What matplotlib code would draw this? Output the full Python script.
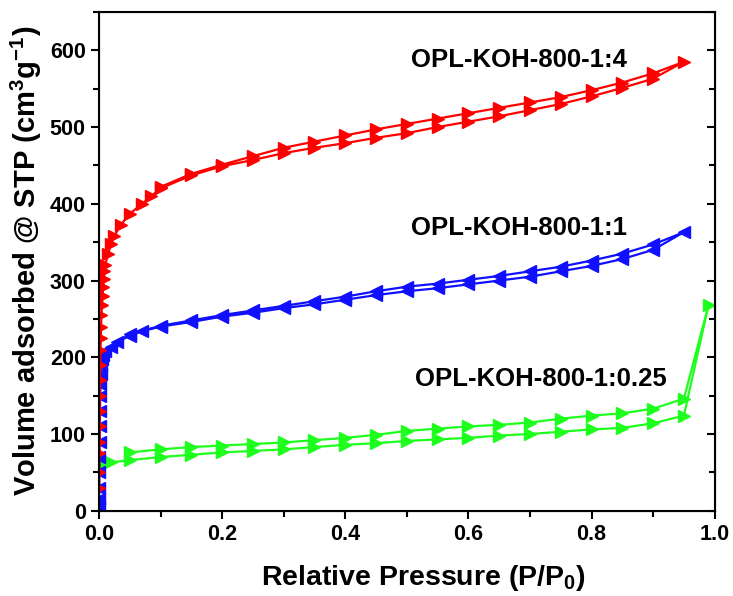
import matplotlib
matplotlib.use('Agg')
import matplotlib.pyplot as plt
import numpy as np
from matplotlib.ticker import MultipleLocator

plt.rcParams['font.family'] = ['Liberation Sans', 'DejaVu Sans']
plt.rcParams['font.weight'] = 'bold'
plt.rcParams['mathtext.fontset'] = 'custom'
plt.rcParams['mathtext.bf'] = 'Liberation Sans:bold'
plt.rcParams['mathtext.rm'] = 'Liberation Sans:bold'
plt.rcParams['mathtext.default'] = 'bf'

# OPL-KOH-800-1:4 (adsorption then desorption)
red_ads_p = [0.0002, 0.0004, 0.0006, 0.0008, 0.001, 0.0012, 0.0015, 0.0018, 0.002, 0.0025,
             0.003, 0.0035, 0.004, 0.005, 0.006, 0.007, 0.008, 0.009, 0.01, 0.015,
             0.02, 0.025, 0.035, 0.05, 0.07, 0.085, 0.1, 0.15, 0.2, 0.25,
             0.3, 0.35, 0.4, 0.45, 0.5, 0.55, 0.6, 0.65, 0.7, 0.75,
             0.8, 0.85, 0.9, 0.95]
red_ads_v = [30, 50, 75, 90, 110, 130, 150, 170, 190, 210,
             225, 240, 255, 268, 280, 292, 302, 312, 320, 335,
             348, 358, 372, 387, 400, 410, 420, 437, 449, 457,
             466, 473, 479, 486, 492, 500, 507, 514, 522, 530,
             540, 551, 563, 585]
red_des_p = [0.9, 0.85, 0.8, 0.75, 0.7, 0.65, 0.6, 0.55, 0.5, 0.45, 0.4, 0.35, 0.3, 0.25, 0.2, 0.15, 0.1]
red_des_v = [570, 558, 548, 539, 532, 525, 518, 511, 504, 497, 489, 481, 473, 462, 451, 439, 422]

# OPL-KOH-800-1:1
blue_ads_p = [0.0001, 0.0002, 0.0003, 0.0005, 0.0007, 0.001, 0.0013, 0.0017, 0.002, 0.0025,
              0.003, 0.004, 0.005, 0.007, 0.01, 0.02, 0.03, 0.05, 0.07, 0.1,
              0.15, 0.2, 0.25, 0.3, 0.35, 0.4, 0.45, 0.5, 0.55, 0.6,
              0.65, 0.7, 0.75, 0.8, 0.85, 0.9, 0.95]
blue_ads_v = [5, 15, 30, 50, 70, 90, 110, 130, 150, 165,
              178, 190, 198, 203, 208, 214, 220, 228, 234, 240,
              246, 253, 258, 264, 269, 275, 281, 286, 290, 295,
              300, 305, 312, 319, 328, 340, 363]
blue_des_p = [0.9, 0.85, 0.8, 0.75, 0.7, 0.65, 0.6, 0.55, 0.5, 0.45, 0.4, 0.35, 0.3, 0.25, 0.2, 0.15, 0.1, 0.05]
blue_des_v = [347, 335, 326, 318, 312, 306, 301, 296, 292, 286, 279, 273, 267, 261, 255, 248, 241, 230]

# OPL-KOH-800-1:0.25
green_ads_p = [0.005, 0.01, 0.02, 0.05, 0.1, 0.15, 0.2, 0.25, 0.3, 0.35,
               0.4, 0.45, 0.5, 0.55, 0.6, 0.65, 0.7, 0.75, 0.8, 0.85,
               0.9, 0.95, 0.99]
green_ads_v = [60, 62, 63, 66, 70, 73, 76, 78, 80, 83,
               86, 88, 91, 93, 95, 98, 100, 103, 106, 108,
               114, 124, 268]
green_des_p = [0.95, 0.9, 0.85, 0.8, 0.75, 0.7, 0.65, 0.6, 0.55, 0.5, 0.45, 0.4, 0.35, 0.3, 0.25, 0.2, 0.15, 0.1, 0.05]
green_des_v = [146, 133, 127, 124, 120, 115, 112, 110, 107, 104, 99, 95, 92, 89, 87, 85, 83, 80, 76]

fig = plt.figure(figsize=(7.33, 5.96), dpi=100)
ax = fig.add_subplot(111)
fig.subplots_adjust(left=0.135, right=0.975, bottom=0.143, top=0.98)

ax.plot(red_ads_p + red_des_p, red_ads_v + red_des_v, '>-', color='#ff0000',
        lw=1.6, ms=8.5, zorder=3)
ax.plot(blue_ads_p + blue_des_p, blue_ads_v + blue_des_v, '<-', color='#1010ff',
        lw=1.6, ms=8.5, zorder=2)
ax.plot(green_ads_p + green_des_p, green_ads_v + green_des_v, '>-', color='#1eff1e',
        lw=1.6, ms=8.5, zorder=1)

ax.text(0.682, 587, 'OPL-KOH-800-1:4', ha='center', va='center', fontsize=18.5, fontweight='bold')
ax.text(0.683, 368, 'OPL-KOH-800-1:1', ha='center', va='center', fontsize=18.5, fontweight='bold')
ax.text(0.718, 172, 'OPL-KOH-800-1:0.25', ha='center', va='center', fontsize=18.5, fontweight='bold')

ax.set_xlim(0, 1.0)
ax.set_ylim(0, 650)
ax.xaxis.set_major_locator(MultipleLocator(0.2))
ax.xaxis.set_minor_locator(MultipleLocator(0.1))
ax.yaxis.set_major_locator(MultipleLocator(100))
ax.yaxis.set_minor_locator(MultipleLocator(50))
ax.xaxis.set_major_formatter(plt.FormatStrFormatter('%.1f'))
ax.tick_params(which='major', direction='out', length=6, width=1.5, labelsize=15.5)
ax.tick_params(which='minor', direction='out', length=4, width=1.5)
for s in ax.spines.values():
    s.set_linewidth(1.5)

# inward ticks on the right side
ax2 = ax.twinx()
ax2.set_ylim(ax.get_ylim())
ax2.yaxis.set_major_locator(MultipleLocator(100))
ax2.yaxis.set_minor_locator(MultipleLocator(50))
ax2.tick_params(which='major', direction='in', length=6, width=1.5, labelright=False)
ax2.tick_params(which='minor', direction='in', length=4, width=1.5)

ax.set_xlabel('Relative Pressure (P/P$_0$)', fontsize=20.5, fontweight='bold')
ax.xaxis.set_label_coords(0.527, -0.105)
ax.set_ylabel('Volume adsorbed @ STP (cm$^3$g$^{-1}$)', fontsize=21, fontweight='bold', labelpad=4)

fig.savefig('out.png', dpi=100)
